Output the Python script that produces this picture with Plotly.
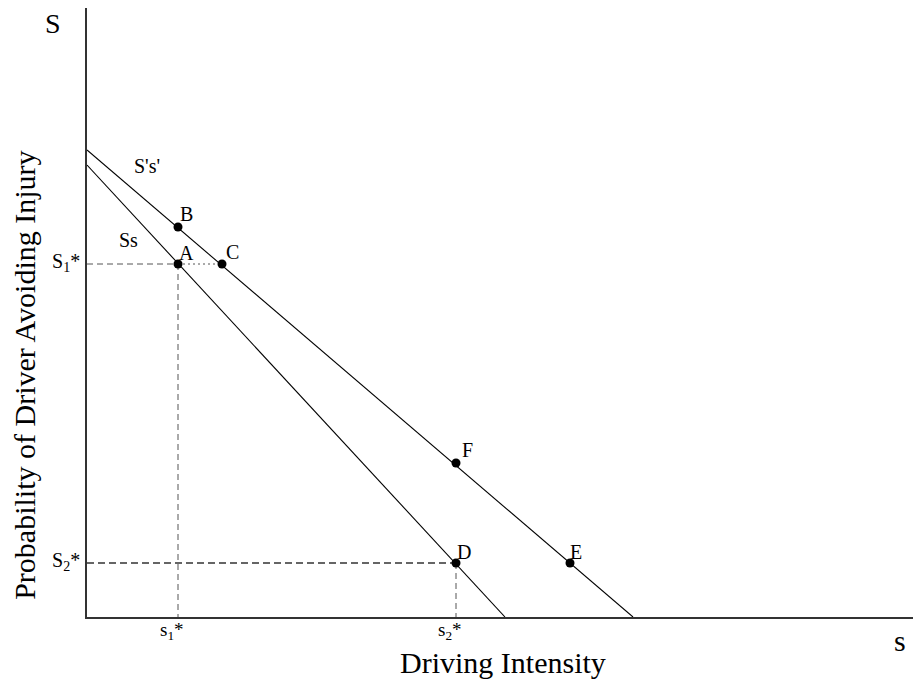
import plotly.graph_objects as go

# Curves (intercepts on S axis and s axis, in chart units)
ss_line_x = [0, 418]
ss_line_y = [452, 0]
sps_line_x = [0, 546]
sps_line_y = [467, 0]

# Labelled points
pt_names = ["B", "A", "C", "F", "D", "E"]
pt_x = [91, 91, 135, 369, 369, 483]
pt_y = [390, 353, 353, 154, 54, 54]

s1_star = 91
s2_star = 369
S1_star = 353
S2_star = 54

x_max = 834
y_max = 609

fig = go.Figure()
black = "black"
fig.add_trace(go.Scatter(x=ss_line_x, y=ss_line_y, mode="lines",
                         line=dict(color=black, width=1.1), hoverinfo="skip"))
fig.add_trace(go.Scatter(x=sps_line_x, y=sps_line_y, mode="lines",
                         line=dict(color=black, width=1.1), hoverinfo="skip"))
# guide lines
fig.add_trace(go.Scatter(x=[0, s1_star], y=[S1_star, S1_star], mode="lines",
                         line=dict(color="#555", width=1, dash="6px,4px")))
fig.add_trace(go.Scatter(x=[s1_star, pt_x[2]], y=[S1_star, S1_star], mode="lines",
                         line=dict(color="#555", width=1, dash="2px,3px")))
fig.add_trace(go.Scatter(x=[s1_star, s1_star], y=[S1_star, 0], mode="lines",
                         line=dict(color="#555", width=1, dash="6px,4px")))
fig.add_trace(go.Scatter(x=[0, s2_star], y=[S2_star, S2_star], mode="lines",
                         line=dict(color="#333", width=1.4, dash="7px,4px")))
fig.add_trace(go.Scatter(x=[s2_star, s2_star], y=[S2_star, 0], mode="lines",
                         line=dict(color="#555", width=1, dash="6px,4px")))
fig.add_trace(go.Scatter(x=pt_x, y=pt_y, mode="markers",
                         marker=dict(color=black, size=9)))

serif = "Liberation Serif, Times New Roman, serif"
ann = []
label_off = {"B": (8, 13), "A": (8, 11), "C": (10, 12), "F": (11, 13), "D": (8, 11), "E": (6, 11)}
for n, x, y in zip(pt_names, pt_x, pt_y):
    dx, dy = label_off[n]
    ann.append(dict(x=x, y=y, text=n, showarrow=False, xshift=dx, yshift=dy,
                    font=dict(family=serif, size=20, color=black)))
ann.append(dict(x=60, y=451, text="S's'", showarrow=False,
                font=dict(family=serif, size=20, color=black)))
ann.append(dict(x=41, y=377, text="Ss", showarrow=False,
                font=dict(family=serif, size=20, color=black)))
ann.append(dict(x=0, y=S1_star, text="S<sub>1</sub>*", showarrow=False, xanchor="right", xshift=-5, yshift=2,
                font=dict(family=serif, size=20, color=black)))
ann.append(dict(x=0, y=S2_star, text="S<sub>2</sub>*", showarrow=False, xanchor="right", xshift=-5, yshift=2,
                font=dict(family=serif, size=20, color=black)))
ann.append(dict(x=s1_star, y=0, text="s<sub>1</sub>*", showarrow=False, yanchor="top", xshift=-6, yshift=0,
                font=dict(family=serif, size=19, color=black)))
ann.append(dict(x=s2_star, y=0, text="s<sub>2</sub>*", showarrow=False, yanchor="top", xshift=-6, yshift=0,
                font=dict(family=serif, size=19, color=black)))
ann.append(dict(x=0, y=y_max, text="S", showarrow=False, xanchor="center", xshift=-34, yanchor="middle", yshift=-15,
                font=dict(family=serif, size=28, color=black)))
ann.append(dict(x=x_max, y=0, text="s", showarrow=False, xanchor="center", xshift=-21, yanchor="middle", yshift=-23,
                font=dict(family=serif, size=30, color=black)))
ann.append(dict(x=(353 + 652) / 2 - 87, y=0, text="Driving Intensity", showarrow=False,
                yanchor="middle", yshift=-45, font=dict(family=serif, size=30, color=black)))
ann.append(dict(x=0, xref="paper", y=0.396, yref="paper", text="Probability of Driver Avoiding Injury",
                showarrow=False, textangle=-90, xanchor="center", xshift=-62, yanchor="middle",
                font=dict(family=serif, size=30, color=black)))

fig.update_layout(
    width=913, height=672,
    margin=dict(l=79, r=0, t=0, b=63, pad=0),
    plot_bgcolor="white", paper_bgcolor="white",
    showlegend=False,
    annotations=ann,
    xaxis=dict(range=[0, x_max], showgrid=False, zeroline=False, showticklabels=False,
               ticks="", showline=True, linecolor="#333", linewidth=2, fixedrange=True),
    yaxis=dict(range=[0, y_max], showgrid=False, zeroline=False, showticklabels=False,
               ticks="", showline=True, linecolor="#333", linewidth=2, fixedrange=True),
)
fig.write_html("out.html")
